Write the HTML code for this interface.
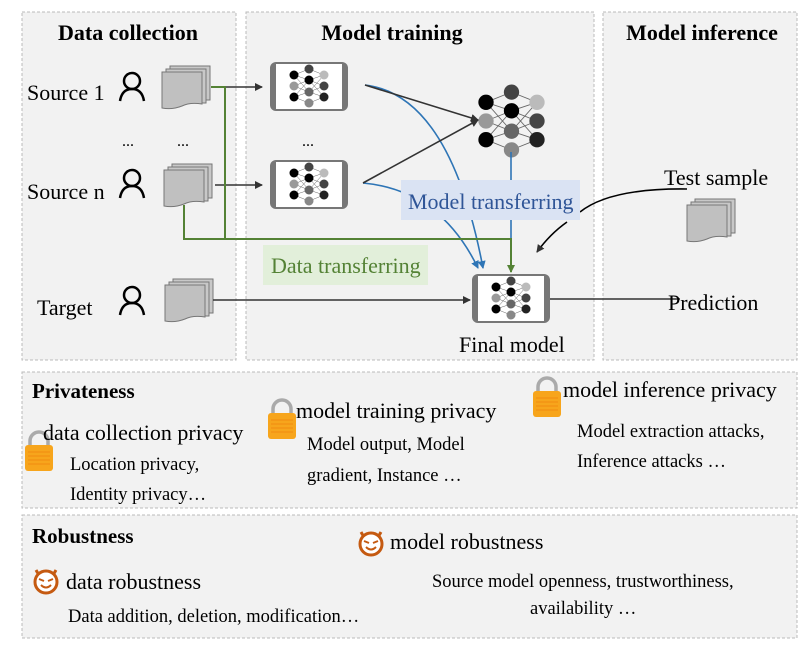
<!DOCTYPE html><html><head><style>body{margin:0;background:#fff}svg{display:block}text{font-family:"Liberation Serif",serif}</style></head><body>
<svg width="811" height="646" viewBox="0 0 811 646" xmlns="http://www.w3.org/2000/svg">
<defs>
<marker id="ak" markerWidth="8" markerHeight="8" refX="7" refY="4" orient="auto" markerUnits="userSpaceOnUse"><path d="M0,0 L8,4 L0,8z" fill="#333"/></marker>
<marker id="ab" markerWidth="8" markerHeight="8" refX="7" refY="4" orient="auto" markerUnits="userSpaceOnUse"><path d="M0,0 L8,4 L0,8z" fill="#2e75b6"/></marker>
<marker id="ag" markerWidth="8" markerHeight="8" refX="7" refY="4" orient="auto" markerUnits="userSpaceOnUse"><path d="M0,0 L8,4 L0,8z" fill="#548235"/></marker>
<g id="doc"><rect x="8" y="0" width="40" height="34" fill="#c8c8c8" stroke="#777"/><rect x="4" y="3" width="40" height="34" fill="#c8c8c8" stroke="#777"/><path d="M0,6 H40 V38 Q28,36 20,40 Q10,44 0,42 Z" fill="#c0c0c0" stroke="#777"/></g>
<g id="per" fill="none" stroke="#000" stroke-width="2.5"><circle cx="12" cy="8" r="8"/><path d="M0,28 Q2,16 12,16 Q22,16 24,28"/></g>
<g id="nn"><g stroke="#666" stroke-width="0.5"><path d="M0,-11 L15,-17 M0,-11 L15,-6 M0,-11 L15,6 M0,0 L15,-6 M0,0 L15,6 M0,11 L15,6 M0,11 L15,17 M0,11 L15,-6 M15,-17 L30,-11 M15,-6 L30,-11 M15,-6 L30,0 M15,6 L30,0 M15,6 L30,11 M15,17 L30,11 M15,-6 L30,11 M15,6 L30,-11"/></g>
<circle cx="0" cy="-11" r="4.5" fill="#000"/><circle cx="0" cy="0" r="4.5" fill="#999"/><circle cx="0" cy="11" r="4.5" fill="#000"/><circle cx="15" cy="-17" r="4.5" fill="#444"/><circle cx="15" cy="-6" r="4.5" fill="#000"/><circle cx="15" cy="6" r="4.5" fill="#666"/><circle cx="15" cy="17" r="4.5" fill="#888"/><circle cx="30" cy="-11" r="4.5" fill="#bbb"/><circle cx="30" cy="0" r="4.5" fill="#444"/><circle cx="30" cy="11" r="4.5" fill="#222"/></g>
<g id="box"><rect x="0" y="0" width="78" height="49" rx="6" fill="#777"/><rect x="6" y="2" width="66" height="45" fill="#fff"/></g>
<g id="lock"><path d="M5,14 V9 A9,9 0 0 1 23,9 V14" fill="none" stroke="#aaa" stroke-width="3.5"/><rect x="0" y="13" width="28" height="26" rx="3" fill="#f7a51c"/><g stroke="#f08a10" stroke-width="1"><path d="M3,20H25M3,24H25M3,28H25M3,32H25"/></g></g>
<g id="dev"><path d="M3,4 L7,11 M23,4 L19,11" stroke="#c55a11" stroke-width="3"/><circle cx="13" cy="16" r="11" fill="#fff" stroke="#c55a11" stroke-width="3"/><path d="M6,13 L11,15 M20,13 L15,15 M8,19 Q13,24 18,19" stroke="#c55a11" stroke-width="2" fill="none"/></g>
</defs>
<g fill="#f2f2f2" stroke="#bbb" stroke-dasharray="3,2">
<rect x="22" y="12" width="214" height="348"/><rect x="246" y="12" width="348" height="348"/><rect x="603" y="12" width="194" height="348"/>
<rect x="22" y="372" width="775" height="136"/><rect x="22" y="515" width="775" height="123"/></g>
<g font-weight="bold" font-size="22" text-anchor="middle"><text x="128" y="40">Data collection</text><text x="392" y="40">Model training</text><text x="702" y="40">Model inference</text></g>
<g font-size="22"><text x="27" y="100">Source 1</text><text x="27" y="199">Source n</text><text x="37" y="315">Target</text></g>
<g font-size="16"><text x="122" y="146">...</text><text x="177" y="146">...</text><text x="302" y="146">...</text></g>
<use href="#per" x="120" y="73"/><use href="#per" x="120" y="170"/><use href="#per" x="120" y="287"/>
<use href="#doc" x="162" y="66"/><use href="#doc" x="164" y="164"/><use href="#doc" x="165" y="279"/><use href="#doc" x="687" y="199"/>
<use href="#box" x="270" y="62"/><use href="#nn" x="294" y="86"/>
<use href="#box" x="270" y="160"/><use href="#nn" x="294" y="184"/>
<g transform="translate(486,121) scale(1.7)"><use href="#nn"/></g>
<use href="#box" x="472" y="274"/><use href="#nn" x="496" y="298"/>
<g fill="none" stroke-width="1.6">
<path d="M511,152 V270" stroke="#2e75b6"/>
<path d="M365,85 Q450,95 483,268" stroke="#2e75b6" marker-end="url(#ab)"/>
<path d="M363,183 Q440,190 478,268" stroke="#2e75b6" marker-end="url(#ab)"/>
<path d="M211,87 H262" stroke="#333" marker-end="url(#ak)"/>
<path d="M215,185 H262" stroke="#333" marker-end="url(#ak)"/>
<path d="M365,85 L478,120" stroke="#333" marker-end="url(#ak)"/>
<path d="M363,183 L478,120" stroke="#333" marker-end="url(#ak)"/>
<path d="M211,87 H225 V239 M184,205 V239 H511 V272" stroke="#548235" stroke-width="2" marker-end="url(#ag)"/>
<path d="M213,300 H470" stroke="#333" marker-end="url(#ak)"/>
<path d="M550,299 H680" stroke="#333"/>
<path d="M687,189 Q610,188 580,212 M567,222 Q550,234 537,252" stroke="#000" marker-end="url(#ak)"/>
</g>
<rect x="401" y="180" width="179" height="40" fill="#dae3f3"/><text x="408" y="209" font-size="22" fill="#2f5597">Model transferring</text>
<rect x="263" y="245" width="165" height="40" fill="#e2efda"/><text x="271" y="273" font-size="22" fill="#548235">Data transferring</text>
<g font-size="22"><text x="664" y="185">Test sample</text><text x="668" y="310">Prediction</text><text x="459" y="352">Final model</text></g>
<text x="32" y="398" font-size="21" font-weight="bold">Privateness</text>
<text x="32" y="543" font-size="21" font-weight="bold">Robustness</text>
<use href="#lock" x="25" y="432"/><use href="#lock" x="268" y="400"/><use href="#lock" x="533" y="378"/>
<g font-size="22"><text x="43" y="440">data collection privacy</text><text x="296" y="418">model training privacy</text><text x="563" y="397">model inference privacy</text>
<text x="66" y="589">data robustness</text><text x="390" y="549">model robustness</text></g>
<g font-size="18.5"><text x="70" y="470">Location privacy,</text><text x="70" y="500">Identity privacy…</text>
<text x="307" y="450">Model output, Model</text><text x="307" y="481">gradient, Instance …</text>
<text x="577" y="437">Model extraction attacks,</text><text x="577" y="467">Inference attacks …</text>
<text x="68" y="622">Data addition, deletion, modification…</text>
<text x="432" y="587">Source model openness, trustworthiness,</text><text x="530" y="614">availability …</text></g>
<use href="#dev" x="33" y="566"/><use href="#dev" x="358" y="528"/>
</svg>
</body></html>
